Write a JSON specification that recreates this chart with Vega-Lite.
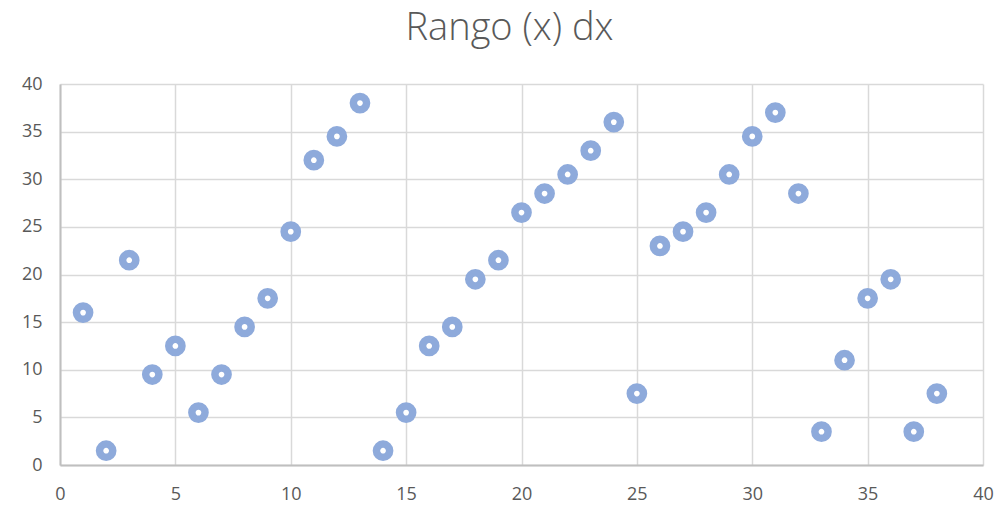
{
  "$schema": "https://vega.github.io/schema/vega-lite/v6.json",
  "autosize": {"type": "none"},
  "width": 923,
  "height": 381,
  "padding": {"left": 60, "top": 84, "right": 17, "bottom": 47},
  "background": "white",
  "title": {
    "text": "Rango (x) dx",
    "font": "Open Sans",
    "fontSize": 38,
    "fontWeight": 300,
    "color": "#595959",
    "anchor": "middle",
    "dx": -12,
    "offset": 27
  },
  "data": {
    "values": [
      {"x": 1, "y": 16}, {"x": 2, "y": 1.5}, {"x": 3, "y": 21.5}, {"x": 4, "y": 9.5},
      {"x": 5, "y": 12.5}, {"x": 6, "y": 5.5}, {"x": 7, "y": 9.5}, {"x": 8, "y": 14.5},
      {"x": 9, "y": 17.5}, {"x": 10, "y": 24.5}, {"x": 11, "y": 32}, {"x": 12, "y": 34.5},
      {"x": 13, "y": 38}, {"x": 14, "y": 1.5}, {"x": 15, "y": 5.5}, {"x": 16, "y": 12.5},
      {"x": 17, "y": 14.5}, {"x": 18, "y": 19.5}, {"x": 19, "y": 21.5}, {"x": 20, "y": 26.5},
      {"x": 21, "y": 28.5}, {"x": 22, "y": 30.5}, {"x": 23, "y": 33}, {"x": 24, "y": 36},
      {"x": 25, "y": 7.5}, {"x": 26, "y": 23}, {"x": 27, "y": 24.5}, {"x": 28, "y": 26.5},
      {"x": 29, "y": 30.5}, {"x": 30, "y": 34.5}, {"x": 31, "y": 37}, {"x": 32, "y": 28.5},
      {"x": 33, "y": 3.5}, {"x": 34, "y": 11}, {"x": 35, "y": 17.5}, {"x": 36, "y": 19.5},
      {"x": 37, "y": 3.5}, {"x": 38, "y": 7.5}
    ]
  },
  "mark": {
    "type": "point",
    "shape": "circle",
    "filled": false,
    "fill": "white",
    "fillOpacity": 1,
    "stroke": "#8eaadb",
    "strokeWidth": 7.5,
    "strokeOpacity": 1,
    "opacity": 1,
    "size": 175
  },
  "encoding": {
    "x": {
      "field": "x",
      "type": "quantitative",
      "scale": {"domain": [0, 40], "nice": false, "zero": true},
      "axis": {"values": [0, 5, 10, 15, 20, 25, 30, 35, 40], "title": null}
    },
    "y": {
      "field": "y",
      "type": "quantitative",
      "scale": {"domain": [0, 40], "nice": false},
      "axis": {"values": [0, 5, 10, 15, 20, 25, 30, 35, 40], "title": null}
    }
  },
  "config": {
    "view": {"stroke": null},
    "axis": {
      "labelFont": "Open Sans",
      "labelFontSize": 18,
      "labelColor": "#595959",
      "labelPadding": 18,
      "labelFlush": false,
      "ticks": false,
      "grid": true,
      "gridColor": "#d9d9d9",
      "gridWidth": 1.5,
      "domainColor": "#bfbfbf",
      "domainWidth": 2
    },
    "axisX": {"labelPadding": 20}
  }
}
